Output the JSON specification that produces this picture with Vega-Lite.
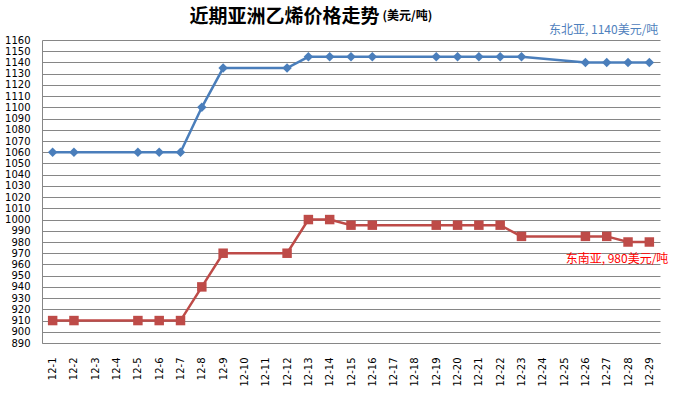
{
  "$schema": "https://vega.github.io/schema/vega-lite/v6.json",
  "width": 618,
  "height": 303,
  "autosize": {"type": "none"},
  "padding": {"left": 42, "top": 40, "right": 14, "bottom": 52},
  "background": "white",
  "title": {
    "text": "近期亚洲乙烯价格走势",
    "anchor": "start",
    "dx": 185,
    "offset": -18,
    "fontSize": 19,
    "font": "Noto Sans CJK SC",
    "fontWeight": "bold",
    "color": "#000000"
  },
  "config": {
    "view": {"stroke": null},
    "axis": {
      "labelFont": "DejaVu Sans",
      "labelFontSize": 10,
      "labelColor": "#000000",
      "domainColor": "#868686",
      "gridColor": "#868686",
      "gridOpacity": 1,
      "ticks": false
    }
  },
  "datasets": {
    "prices": [
      {"date": "12-1", "region": "东北亚", "price": 1060},
      {"date": "12-2", "region": "东北亚", "price": 1060},
      {"date": "12-5", "region": "东北亚", "price": 1060},
      {"date": "12-6", "region": "东北亚", "price": 1060},
      {"date": "12-7", "region": "东北亚", "price": 1060},
      {"date": "12-8", "region": "东北亚", "price": 1100},
      {"date": "12-9", "region": "东北亚", "price": 1135},
      {"date": "12-12", "region": "东北亚", "price": 1135},
      {"date": "12-13", "region": "东北亚", "price": 1145},
      {"date": "12-14", "region": "东北亚", "price": 1145},
      {"date": "12-15", "region": "东北亚", "price": 1145},
      {"date": "12-16", "region": "东北亚", "price": 1145},
      {"date": "12-19", "region": "东北亚", "price": 1145},
      {"date": "12-20", "region": "东北亚", "price": 1145},
      {"date": "12-21", "region": "东北亚", "price": 1145},
      {"date": "12-22", "region": "东北亚", "price": 1145},
      {"date": "12-23", "region": "东北亚", "price": 1145},
      {"date": "12-26", "region": "东北亚", "price": 1140},
      {"date": "12-27", "region": "东北亚", "price": 1140},
      {"date": "12-28", "region": "东北亚", "price": 1140},
      {"date": "12-29", "region": "东北亚", "price": 1140},
      {"date": "12-1", "region": "东南亚", "price": 910},
      {"date": "12-2", "region": "东南亚", "price": 910},
      {"date": "12-5", "region": "东南亚", "price": 910},
      {"date": "12-6", "region": "东南亚", "price": 910},
      {"date": "12-7", "region": "东南亚", "price": 910},
      {"date": "12-8", "region": "东南亚", "price": 940},
      {"date": "12-9", "region": "东南亚", "price": 970},
      {"date": "12-12", "region": "东南亚", "price": 970},
      {"date": "12-13", "region": "东南亚", "price": 1000},
      {"date": "12-14", "region": "东南亚", "price": 1000},
      {"date": "12-15", "region": "东南亚", "price": 995},
      {"date": "12-16", "region": "东南亚", "price": 995},
      {"date": "12-19", "region": "东南亚", "price": 995},
      {"date": "12-20", "region": "东南亚", "price": 995},
      {"date": "12-21", "region": "东南亚", "price": 995},
      {"date": "12-22", "region": "东南亚", "price": 995},
      {"date": "12-23", "region": "东南亚", "price": 985},
      {"date": "12-26", "region": "东南亚", "price": 985},
      {"date": "12-27", "region": "东南亚", "price": 985},
      {"date": "12-28", "region": "东南亚", "price": 980},
      {"date": "12-29", "region": "东南亚", "price": 980}
    ],
    "notes": [
      {"date": "12-29", "region": "东北亚", "price": 1140, "note": "东北亚, 1140美元/吨"},
      {"date": "12-29", "region": "东南亚", "price": 980, "note": "东南亚, 980美元/吨"}
    ]
  },
  "data": {"name": "prices"},
  "encoding": {
    "x": {
      "field": "date",
      "type": "ordinal",
      "scale": {
        "type": "point",
        "padding": 0.5,
        "domain": ["12-1","12-2","12-3","12-4","12-5","12-6","12-7","12-8","12-9","12-10","12-11","12-12","12-13","12-14","12-15","12-16","12-17","12-18","12-19","12-20","12-21","12-22","12-23","12-24","12-25","12-26","12-27","12-28","12-29"]
      },
      "axis": {
        "title": null,
        "labelAngle": -90,
        "labelAlign": "right",
        "labelBaseline": "middle",
        "labelPadding": 14,
        "grid": false
      }
    },
    "y": {
      "field": "price",
      "type": "quantitative",
      "scale": {"domain": [890, 1160], "nice": false, "zero": false},
      "axis": {
        "values": [890,900,910,920,930,940,950,960,970,980,990,1000,1010,1020,1030,1040,1050,1060,1070,1080,1090,1100,1110,1120,1130,1140,1150,1160],
        "format": "d",
        "labelPadding": 12,
        "grid": true,
        "title": "(美元/吨)",
        "titleAngle": 0,
        "titleX": 340,
        "titleY": -21,
        "titleAlign": "left",
        "titleBaseline": "alphabetic",
        "titleFont": "Noto Sans CJK SC",
        "titleFontSize": 12,
        "titleFontWeight": "bold",
        "titleColor": "#000000"
      }
    }
  },
  "layer": [
    {
      "mark": {"type": "line", "strokeWidth": 2.5},
      "encoding": {
        "color": {
          "field": "region",
          "type": "nominal",
          "scale": {"domain": ["东北亚", "东南亚"], "range": ["#4A7EBB", "#BE4B48"]},
          "legend": null
        }
      }
    },
    {
      "mark": {"type": "point", "filled": true, "opacity": 1, "size": 90},
      "encoding": {
        "color": {
          "field": "region",
          "type": "nominal",
          "scale": {"domain": ["东北亚", "东南亚"], "range": ["#4A7EBB", "#BE4B48"]},
          "legend": null
        },
        "shape": {
          "field": "region",
          "type": "nominal",
          "scale": {"domain": ["东北亚", "东南亚"], "range": ["diamond", "square"]},
          "legend": null
        }
      }
    },
    {
      "data": {"name": "notes"},
      "transform": [{"filter": "datum.region === '东北亚'"}],
      "mark": {"type": "text", "align": "right", "baseline": "alphabetic", "dx": 9, "dy": -28, "font": "Noto Sans CJK SC", "fontSize": 12, "color": "#4F81BD"},
      "encoding": {"text": {"field": "note"}}
    },
    {
      "data": {"name": "notes"},
      "transform": [{"filter": "datum.region === '东南亚'"}],
      "mark": {"type": "text", "align": "right", "baseline": "alphabetic", "dx": 19, "dy": 21, "font": "Noto Sans CJK SC", "fontSize": 12, "color": "#FF0000"},
      "encoding": {"text": {"field": "note"}}
    }
  ]
}
